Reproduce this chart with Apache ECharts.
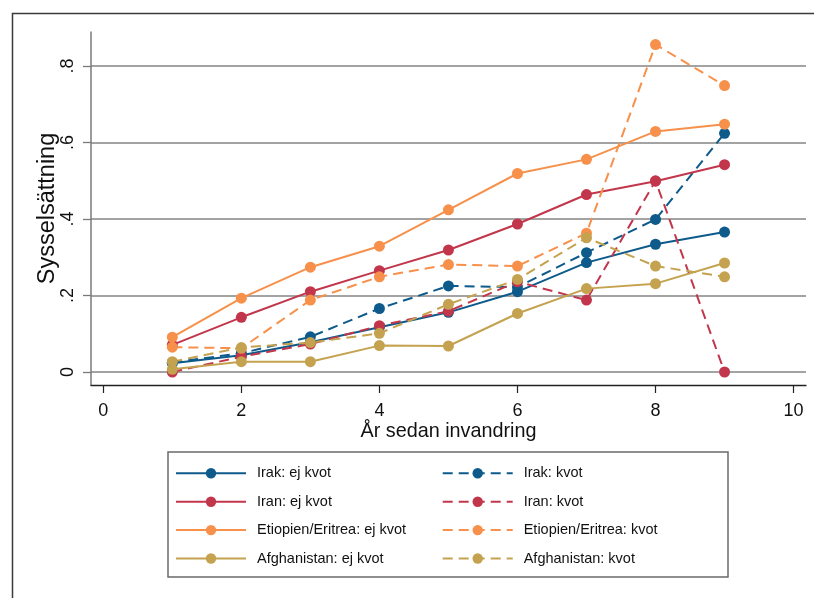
<!DOCTYPE html>
<html><head><meta charset="utf-8">
<script src="https://cdn.jsdelivr.net/npm/echarts@6/dist/echarts.min.js"></script>
<style>html,body{margin:0;padding:0;background:#fff}#c{width:814px;height:598px}</style>
</head><body><div id="c"></div>
<script>
const years = [1,2,3,4,5,6,7,8,9];
const xTicks = [0,2,4,6,8,10];
const yTicks = [0,0.2,0.4,0.6,0.8];
const irakEj   = [0.023,0.044,0.078,0.117,0.156,0.210,0.286,0.334,0.366];
const irakKvot = [0.025,0.049,0.092,0.166,0.225,0.222,0.312,0.399,0.624];
const iranEj   = [0.071,0.143,0.210,0.265,0.319,0.387,0.464,0.499,0.542];
const iranKvot = [0.000,0.040,0.073,0.121,0.159,0.236,0.188,0.500,0.000];
const etiEj    = [0.091,0.193,0.274,0.329,0.424,0.519,0.556,0.629,0.648];
const etiKvot  = [0.065,0.062,0.188,0.249,0.281,0.277,0.363,0.856,0.749];
const afgEj    = [0.007,0.027,0.027,0.069,0.068,0.153,0.218,0.231,0.285];
const afgKvot  = [0.027,0.064,0.077,0.101,0.177,0.242,0.351,0.277,0.249];

const C = {blue:'#0d5a8b', red:'#c2364b', orange:'#f6904a', gold:'#c4a24f'};
const defs = [
  ['Irak: ej kvot', irakEj, C.blue, 'solid'],
  ['Irak: kvot', irakKvot, C.blue, 'dashed'],
  ['Iran: ej kvot', iranEj, C.red, 'solid'],
  ['Iran: kvot', iranKvot, C.red, 'dashed'],
  ['Etiopien/Eritrea: ej kvot', etiEj, C.orange, 'solid'],
  ['Etiopien/Eritrea: kvot', etiKvot, C.orange, 'dashed'],
  ['Afghanistan: ej kvot', afgEj, C.gold, 'solid'],
  ['Afghanistan: kvot', afgKvot, C.gold, 'dashed']
];
const series = defs.map(d => ({
  name: d[0], type: 'line',
  data: years.map((y,i) => [y, d[1][i]]),
  symbol: 'circle', symbolSize: 11,
  itemStyle: {color: d[2]},
  lineStyle: {color: d[2], width: 2, type: d[3]==='dashed' ? [10,6] : 'solid'},
  animation: false
}));
const font = 'Arial, "Liberation Sans", Helvetica, sans-serif';
const fmt = v => v === 0 ? '0' : String(+v.toFixed(1)).replace('0.', '.');
const legendCommon = {
  orient: 'vertical', itemWidth: 70, itemHeight: 13, itemGap: 13.4,
  textStyle: {fontFamily: font, fontSize: 14.5, color: '#111', padding: [0,0,0,6]}
};
const chart = echarts.init(document.getElementById('c'), null, {renderer: 'canvas'});
chart.setOption({
  animation: false,
  backgroundColor: '#fff',
  grid: {left: 91, right: 8, top: 32, bottom: 213, containLabel: false},
  xAxis: {
    type: 'value', min: -0.178, max: 10.18,
    name: 'År sedan invandring', nameLocation: 'middle', nameGap: 37, nameMoveOverlap: false,
    nameTextStyle: {fontFamily: font, fontSize: 19.8, color: '#111'},
    axisLine: {show: true, onZero: false, lineStyle: {color: '#222', width: 1.3}},
    axisTick: {show: true, length: 8, customValues: xTicks, lineStyle: {color: '#222', width: 1.2}},
    axisLabel: {customValues: xTicks, margin: 17, fontFamily: font, fontSize: 18, color: '#111'},
    splitLine: {show: false}
  },
  yAxis: {
    type: 'value', min: -0.034, max: 0.889,
    name: 'Sysselsättning', nameLocation: 'middle', nameGap: 31, nameMoveOverlap: false,
    nameTextStyle: {fontFamily: font, fontSize: 23.5, color: '#111'},
    axisLine: {show: true, onZero: false, lineStyle: {color: '#7a7a7a', width: 1.5}},
    axisTick: {show: true, length: 8, customValues: yTicks, lineStyle: {color: '#7a7a7a', width: 1.3}},
    axisLabel: {customValues: yTicks, rotate: 90, margin: 14, fontFamily: font, fontSize: 18, color: '#111', formatter: fmt},
    splitLine: {show: true, lineStyle: {color: '#a3a3a3', width: 2}}
  },
  legend: [
    Object.assign({}, legendCommon, {left: 170, top: 460.8, data: defs.filter((d,i)=>i%2===0).map(d=>d[0])}),
    Object.assign({}, legendCommon, {left: 436.7, top: 460.8, data: defs.filter((d,i)=>i%2===1).map(d=>d[0])})
  ],
  graphic: [
    {type: 'rect', left: 10, top: 11, shape: {x: 0, y: 0, width: 900, height: 700}, style: {fill: 'none', stroke: '#3a3a3a', lineWidth: 1.5}, z: -1},
    {type: 'rect', shape: {x: 168, y: 452, width: 560, height: 125}, style: {fill: 'none', stroke: '#6a6a6a', lineWidth: 1.5}, z: -1}
  ],
  series: series
});
</script></body></html>
